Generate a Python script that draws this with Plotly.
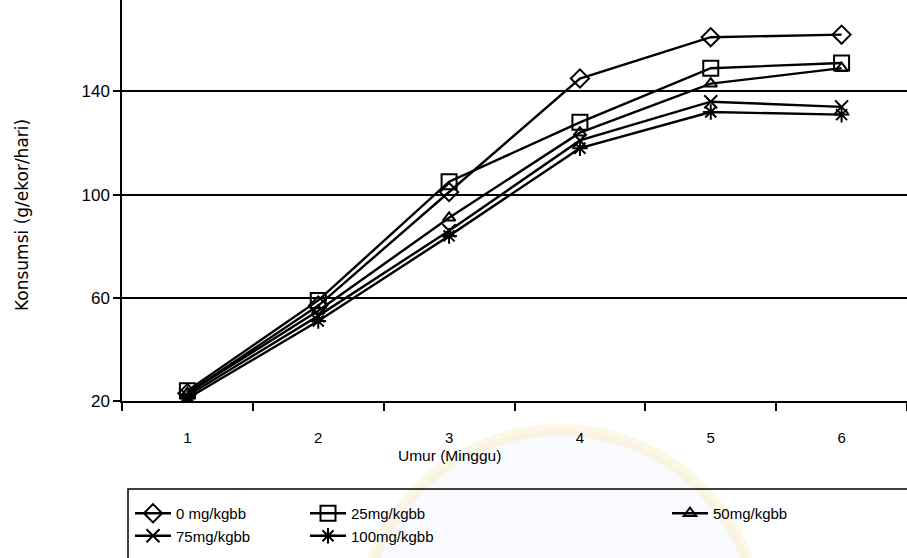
import plotly.graph_objects as go

# Umur ayam (minggu) dan konsumsi pakan (g/ekor/hari) per perlakuan
weeks = [1, 2, 3, 4, 5, 6]
week_labels = ["1", "2", "3", "4", "5", "6"]
dose_0 = [23, 57, 101, 145, 161, 162]
dose_25 = [24, 59, 105, 128, 149, 151]
dose_50 = [23, 55, 91, 124, 143, 149]
dose_75 = [22, 53, 86, 121, 136, 134]
dose_100 = [21, 51, 84, 118, 132, 131]
series_names = ["0 mg/kgbb", "25mg/kgbb", "50mg/kgbb", "75mg/kgbb", "100mg/kgbb"]
y_ticks = [20, 60, 100, 140]

FONT = "Liberation Sans, Arial, sans-serif"
W, H = 907, 558
L, R, T, B = 122, 0, 0, 157

series = [
    (dose_0, series_names[0], "diamond-open", 14, "legend"),
    (dose_25, series_names[1], "square-open", 15, "legend2"),
    (dose_50, series_names[2], "triangle-up-open", 11, "legend3"),
    (dose_75, series_names[3], "x-thin-open", 13, "legend"),
    (dose_100, series_names[4], "asterisk-open", 13, "legend2"),
]

fig = go.Figure()
for vals, name, sym, size, leg in series:
    fig.add_trace(go.Scatter(
        x=weeks, y=vals, name=name, mode="lines+markers",
        line=dict(color="black", width=2.4),
        marker=dict(symbol=sym, size=size, color="black",
                    line=dict(color="black", width=2)),
        legend=leg,
    ))

plot_h = H - T - B
plot_w = W - L - R


def px_x(p):
    return (p - L) / plot_w


def px_y(p):
    return (H - B - p) / plot_h


legend_common = dict(
    orientation="v", bgcolor="rgba(0,0,0,0)", borderwidth=0,
    font=dict(family=FONT, size=15, color="black"),
    itemwidth=36, tracegroupgap=0,
    xanchor="left", yanchor="top",
)

fig.update_layout(
    width=W, height=H,
    margin=dict(l=L, r=R, t=T, b=B),
    paper_bgcolor="white", plot_bgcolor="rgba(0,0,0,0)",
    font=dict(family=FONT, size=15, color="black"),
    showlegend=True,
    legend=dict(x=px_x(130), y=px_y(497), **legend_common),
    legend2=dict(x=px_x(305), y=px_y(497), **legend_common),
    legend3=dict(x=px_x(667), y=px_y(497), **legend_common),
    xaxis=dict(
        range=[0.5, 6.5], tickmode="array", tickvals=weeks, ticktext=week_labels,
        ticks="outside", ticklen=22, tickcolor="rgba(0,0,0,0)",
        showline=True, linecolor="black", linewidth=2,
        showgrid=False, zeroline=False,
        tickfont=dict(family=FONT, size=15, color="black"),
        minor=dict(tickvals=[0.5, 1.5, 2.5, 3.5, 4.5, 5.5, 6.5],
                   ticks="outside", ticklen=8, tickwidth=1.5, tickcolor="black"),
    ),
    yaxis=dict(
        range=[20, 20 + plot_h / 2.58], tickmode="array", tickvals=y_ticks,
        ticks="outside", ticklen=7, tickwidth=1.5, tickcolor="black",
        showline=True, linecolor="black", linewidth=1.5,
        showgrid=True, gridcolor="black", gridwidth=1.6,
        zeroline=False,
        tickfont=dict(family=FONT, size=17, color="black"),
    ),
    shapes=[
        # faint emblem printed behind the lower part of the page
        dict(type="circle", xref="paper", yref="paper", layer="below",
             x0=px_x(360), x1=px_x(760), y0=px_y(830), y1=px_y(430),
             line=dict(color="rgba(248,236,196,0.45)", width=12),
             fillcolor="rgba(232,234,250,0.25)"),
        dict(type="rect", xref="paper", yref="paper",
             x0=px_x(128), x1=px_x(915), y0=px_y(489), y1=px_y(565),
             line=dict(color="black", width=1.5), fillcolor="rgba(0,0,0,0)"),
    ],
    annotations=[
        dict(text="Umur (Minggu)", x=3, xref="x", y=px_y(455), yref="paper",
             showarrow=False, xanchor="center", yanchor="middle",
             font=dict(family=FONT, size=15.5, color="black")),
        dict(text="Konsumsi (g/ekor/hari)", x=px_x(22), xref="paper",
             y=px_y(215), yref="paper", textangle=-90, showarrow=False,
             xanchor="center", yanchor="middle",
             font=dict(family="DejaVu Sans, sans-serif", size=17, color="black")),
    ],
)

fig.write_html("out.html")
